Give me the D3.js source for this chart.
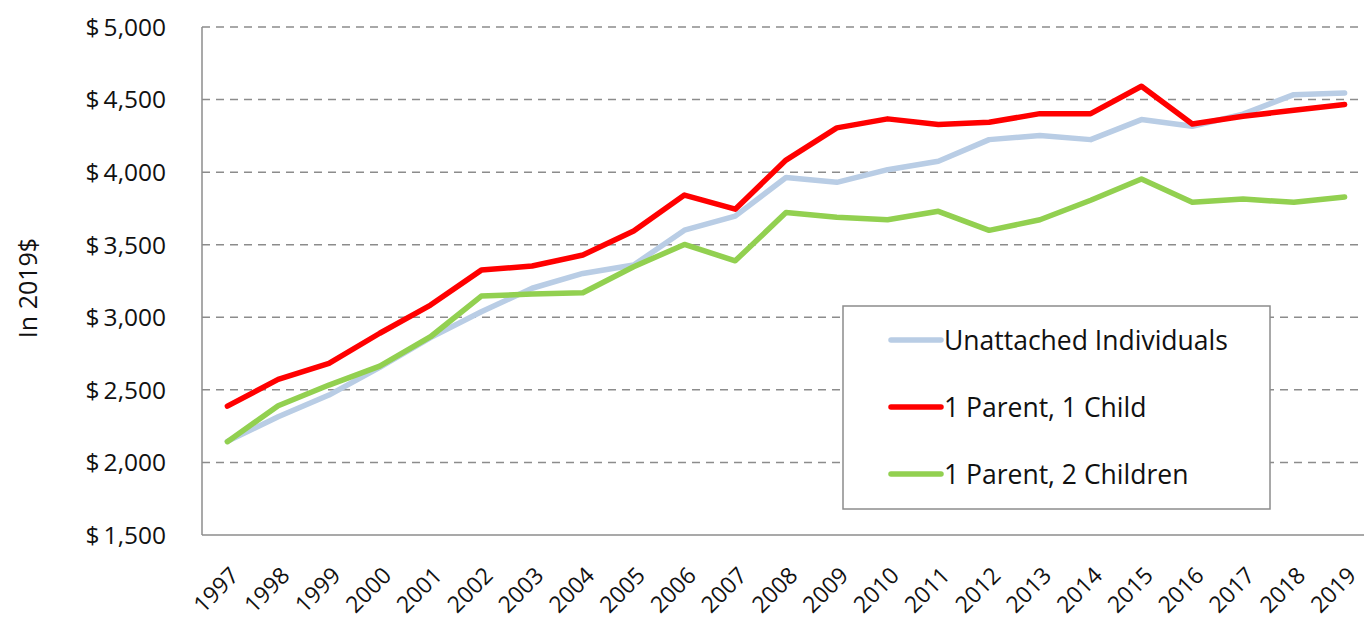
<!DOCTYPE html>
<html lang="en">
<head>
    <meta charset="UTF-8">
    <title>Benefits in 2019$</title>
    <style>
        body{ margin:0; background:#fff; }
        svg{ display:block; }
        text{ font-family:"Open Sans", "Noto Sans", sans-serif; fill:#111; }
    </style>
    <script src="https://cdn.jsdelivr.net/npm/d3@7"></script>
</head>
<body>
<script>
    const width = 1364
    const height = 619

    // data
    const years = ["1997","1998","1999","2000","2001","2002","2003","2004","2005","2006","2007","2008",
        "2009","2010","2011","2012","2013","2014","2015","2016","2017","2018","2019"]
    const unattached = [2145,2315,2464,2655,2860,3038,3200,3302,3360,3600,3697,3963,
        3930,4017,4075,4224,4252,4224,4362,4316,4400,4534,4546]
    const oneParentOneChild = [2388,2572,2683,2890,3084,3325,3353,3429,3594,3842,3745,4083,
        4305,4367,4328,4344,4403,4403,4592,4332,4385,4426,4466]
    const oneParentTwoChildren = [2143,2390,2533,2664,2866,3146,3160,3169,3348,3502,3389,3722,
        3690,3672,3730,3599,3672,3806,3953,3792,3815,3792,3829]
    const yTicks = [1500,2000,2500,3000,3500,4000,4500,5000]

    const series = [
        {name:"Unattached Individuals", values:unattached, color:"#B9CDE5"},
        {name:"1 Parent, 1 Child", values:oneParentOneChild, color:"#FF0000"},
        {name:"1 Parent, 2 Children", values:oneParentTwoChildren, color:"#92D050"}
    ]

    const plotLeft = 202, plotRight = 1370, plotTop = 27, plotBottom = 535

    let svg = d3.select("body").append("svg")
        .attr("width",width).attr("height",height)

    const x = d3.scalePoint().domain(years).range([plotLeft,plotRight]).padding(0.5)
    const y = d3.scaleLinear().domain([1500,5000]).range([plotBottom,plotTop])

    //gridlines
    svg.append("g").selectAll("line")
        .data(yTicks.filter(d=>d>1500))
        .enter().append("line")
        .attr("x1",plotLeft).attr("x2",width)
        .attr("y1",d=>y(d)).attr("y2",d=>y(d))
        .attr("stroke","#8c8c8c").attr("stroke-width",1.5)
        .attr("stroke-dasharray","8,6")

    //axis lines
    svg.append("line").attr("x1",plotLeft).attr("x2",plotLeft).attr("y1",plotTop).attr("y2",plotBottom)
        .attr("stroke","#8c8c8c").attr("stroke-width",1.5)
    svg.append("line").attr("x1",plotLeft).attr("x2",width).attr("y1",plotBottom).attr("y2",plotBottom)
        .attr("stroke","#8c8c8c").attr("stroke-width",1.5)

    //y tick labels
    const fmt = d3.format(",")
    svg.append("g").selectAll("text")
        .data(yTicks)
        .enter().append("text")
        .attr("x",166).attr("y",d=>y(d))
        .attr("dy","0.36em")
        .attr("text-anchor","end")
        .style("font-size","24.5px")
        .text(d=>"$\u2009"+fmt(d))

    //y title
    svg.append("text")
        .attr("transform","translate(37,288) rotate(-90)")
        .attr("text-anchor","middle")
        .style("font-size","25px")
        .text("In 2019$")

    //x tick labels
    svg.append("g").selectAll("text")
        .data(years)
        .enter().append("text")
        .attr("transform",d=>`translate(${x(d)+13},${plotBottom+42}) rotate(-45)`)
        .attr("text-anchor","end")
        .style("font-size","23px")
        .text(d=>d)

    //lines
    const line = d3.line()
        .x((d,i)=>x(years[i]))
        .y(d=>y(d))

    svg.append("g").selectAll("path")
        .data(series)
        .enter().append("path")
        .attr("d",d=>line(d.values))
        .attr("fill","none")
        .attr("stroke",d=>d.color)
        .attr("stroke-width",5.5)
        .attr("stroke-linejoin","round")
        .attr("stroke-linecap","round")

    //legend
    let gLegend = svg.append("g")
    gLegend.append("rect")
        .attr("x",843).attr("y",306).attr("width",427).attr("height",203)
        .attr("fill","#fff").attr("stroke","#8c8c8c").attr("stroke-width",1.5)
    let items = gLegend.selectAll(".item")
        .data(series)
        .enter().append("g")
        .attr("transform",(d,i)=>`translate(0,${340+i*67})`)
    items.append("line")
        .attr("x1",891).attr("x2",941)
        .attr("stroke",d=>d.color).attr("stroke-width",5.5)
        .attr("stroke-linecap","round")
    items.append("text")
        .attr("x",944).attr("dy","0.36em")
        .style("font-size","26.5px")
        .text(d=>d.name)
</script>
</body>
</html>
